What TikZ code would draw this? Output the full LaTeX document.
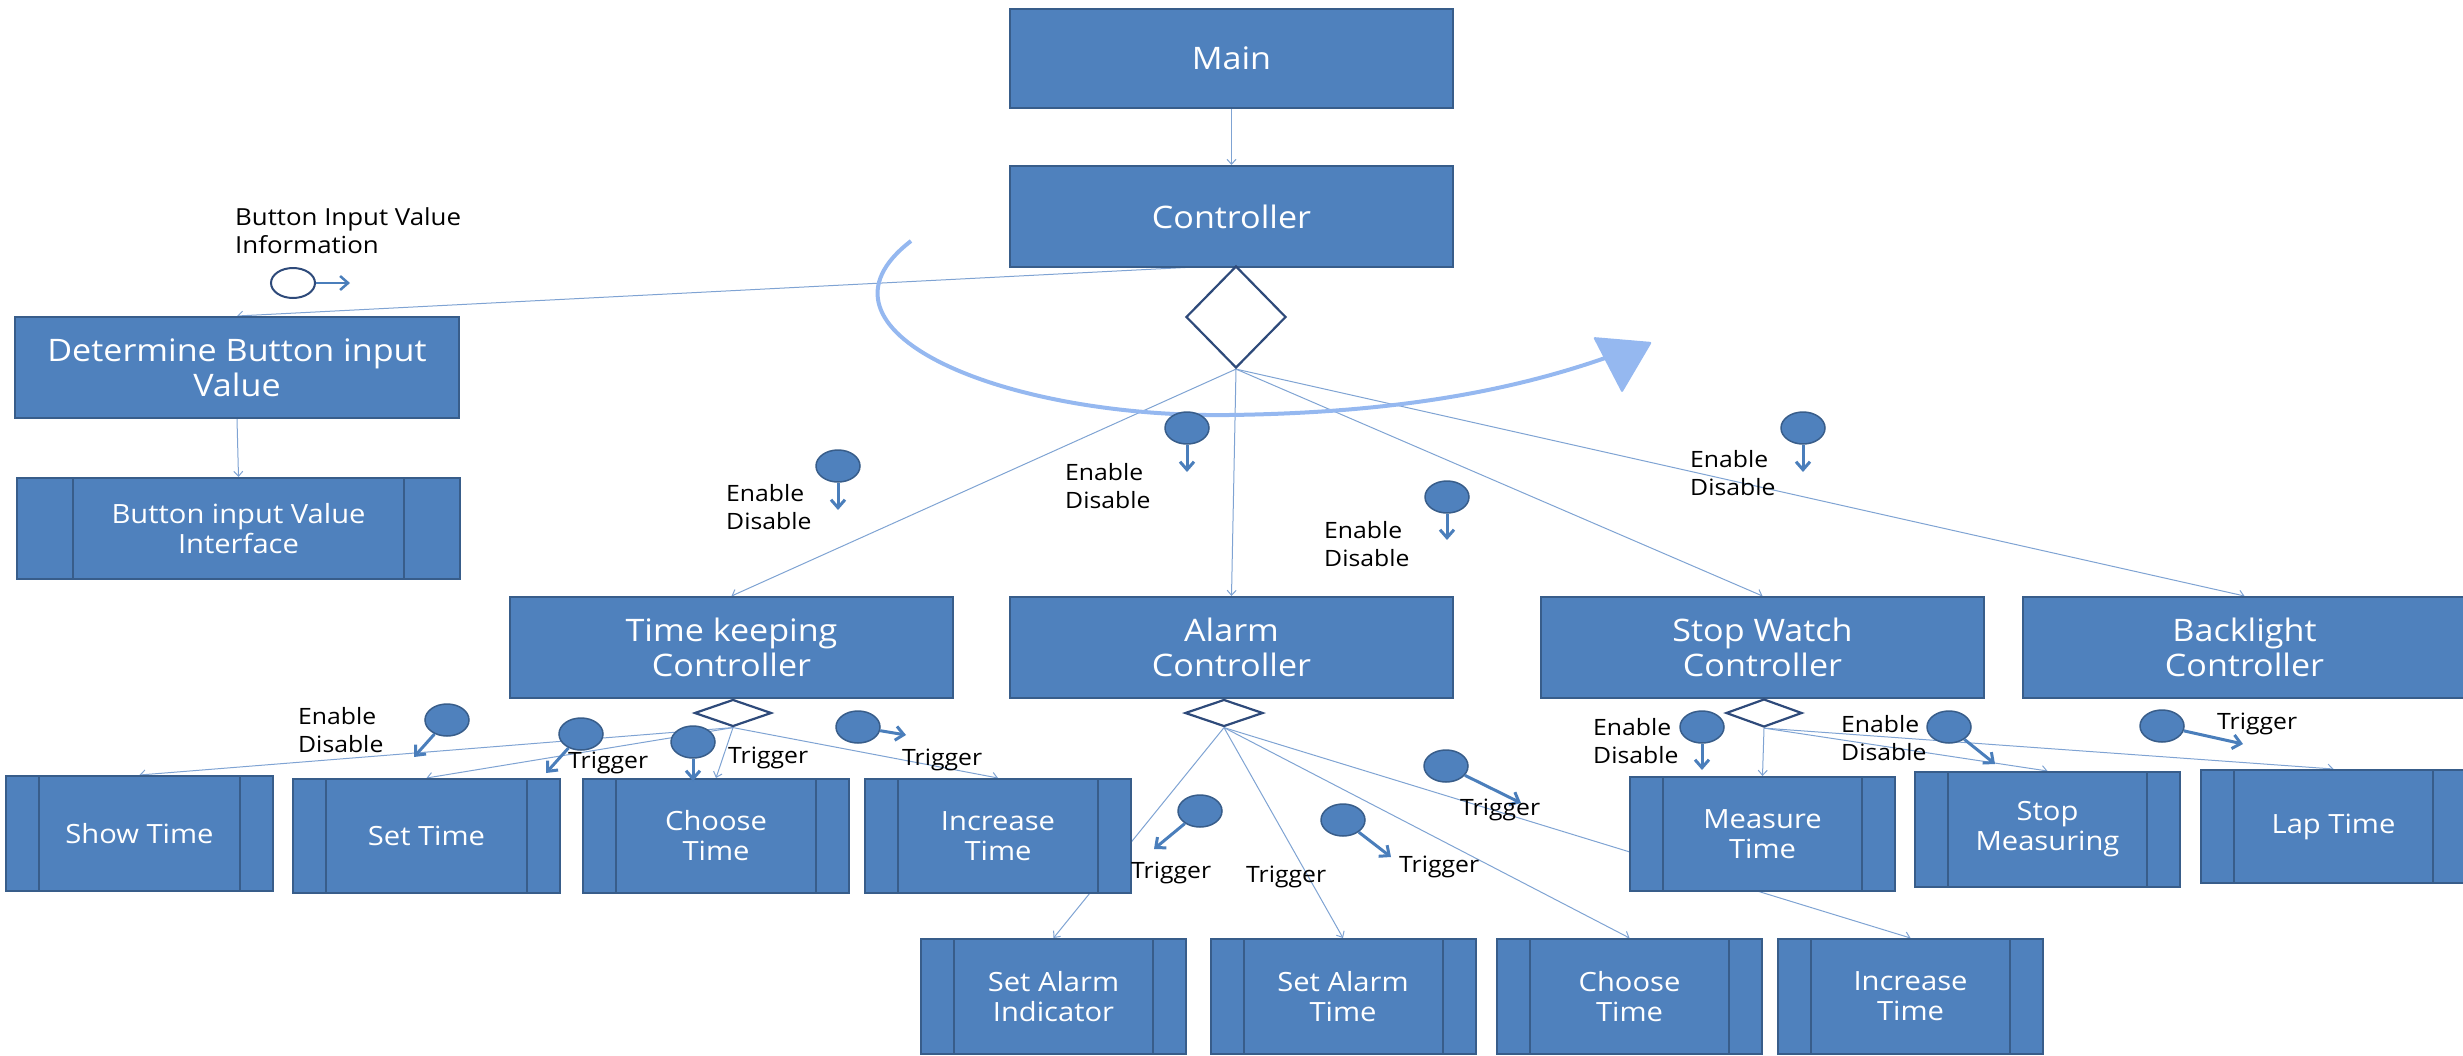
\documentclass[tikz,border=0pt]{standalone}
\usepackage{fontspec}
\setmainfont{Open Sans}[FakeStretch=1.1]
\usetikzlibrary{shapes.geometric,arrows.meta}
\definecolor{boxblue}{HTML}{4F81BD}
\definecolor{boxedge}{HTML}{385D8A}
\definecolor{conncol}{HTML}{7FA3D3}
\definecolor{sigblue}{HTML}{4A7EBB}
\definecolor{diaedge}{HTML}{2E4A7A}
\definecolor{curvecol}{HTML}{95B8F0}
\newcommand\myBig{\fontsize{31}{35}\selectfont}
\newcommand\mySmall{\fontsize{26.5}{30}\selectfont}
\newcommand\myLbl{\fontsize{22.5}{28}\selectfont}
\pgfdeclarelayer{bg}
\pgfsetlayers{bg,main}
\tikzset{
  bigbox/.style={rectangle, draw=boxedge, fill=boxblue, line width=2pt,
    minimum width=443pt, minimum height=101pt, inner sep=0pt,
    text=white, font=\myBig, align=center},
  procbox/.style={rectangle, draw=boxedge, fill=boxblue, line width=2pt,
    minimum width=265pt, minimum height=115pt, inner sep=0pt,
    text=white, font=\mySmall, align=center,
    path picture={\draw[boxedge, line width=2pt]
      ([xshift=#1]path picture bounding box.north west) -- ([xshift=#1]path picture bounding box.south west)
      ([xshift=-#1]path picture bounding box.north east) -- ([xshift=-#1]path picture bounding box.south east);}},
  procbox/.default=33pt,
  dia/.style={diamond, draw=diaedge, fill=white, line width=2.2pt, inner sep=0pt},
  marker/.style={ellipse, draw=boxedge, fill=boxblue, line width=1.5pt,
    minimum width=44pt, minimum height=32pt, inner sep=0pt},
  hollow/.style={ellipse, draw=diaedge, fill=white, line width=2pt,
    minimum width=44pt, minimum height=30pt, inner sep=0pt},
  sig/.style={draw=sigblue, line width=3pt, -{Straight Barb[length=8pt,width=14pt]}},
  conn/.style={draw=conncol, line width=1pt, -{Straight Barb[length=5pt,width=9pt]}},
  lbl/.style={font=\myLbl, align=left, anchor=west, inner sep=0pt, text=black},
}
\begin{document}
\begin{tikzpicture}[x=1pt,y=-1pt]
\useasboundingbox (0,0) rectangle (2463,1055);

% main boxes
\node[bigbox, minimum height=99pt] (main) at (1231.5,58.5) {Main};
\node[bigbox] (ctrl) at (1231.5,216.5) {Controller};
\node[dia, minimum width=100pt, minimum height=102pt] (bigd) at (1236,317) {};
\node[bigbox, minimum width=444pt] (det) at (237,367.5) {Determine Button input\\Value};
\node[procbox=56pt, minimum width=443pt, minimum height=101pt, font=\mySmall] (iface) at (238.5,528.5) {Button input Value\\Interface};

\node[bigbox] (tk) at (731.5,647.5) {Time keeping\\Controller};
\node[bigbox] (alarm) at (1231.5,647.5) {Alarm\\Controller};
\node[bigbox] (sw) at (1762.5,647.5) {Stop Watch\\Controller};
\node[bigbox] (bl) at (2244.5,647.5) {Backlight\\Controller};

\node[dia, minimum width=77pt, minimum height=27pt] (tkd) at (733,713) {};
\node[dia, minimum width=78pt, minimum height=27pt] (ald) at (1224,713) {};
\node[dia, minimum width=76pt, minimum height=28pt] (swd) at (1764,713) {};

% process boxes
\node[procbox, minimum width=267pt] (showt) at (139.5,833.5) {Show Time};
\node[procbox, minimum width=267pt, minimum height=114pt] (sett) at (426.5,836) {Set Time};
\node[procbox, minimum width=266pt, minimum height=114pt] (chooset) at (716,836) {Choose\\Time};
\node[procbox, minimum width=266pt, minimum height=114pt] (inct) at (998,836) {Increase\\Time};

\node[procbox] (setind) at (1053.5,996.5) {Set Alarm\\Indicator};
\node[procbox] (setalt) at (1343,996.5) {Set Alarm\\Time};
\node[procbox] (choosea) at (1629.5,996.5) {Choose\\Time};
\node[procbox] (inca) at (1910.5,996.5) {Increase\\Time};

\node[procbox, minimum height=114pt] (meas) at (1762.5,834) {Measure\\Time};
\node[procbox] (stopm) at (2047.5,829.5) {Stop\\Measuring};
\node[procbox, minimum height=113pt] (lap) at (2333.5,826.5) {Lap Time};

% connectors
\begin{pgfonlayer}{bg}
\draw[conn] (main.south) -- (ctrl.north);
\draw[conn] (bigd.north) -- (det.north);
\draw[conn] (det.south) -- (iface.north);
\draw[conn] (bigd.south) -- (tk.north);
\draw[conn] (bigd.south) -- (alarm.north);
\draw[conn] (bigd.south) -- (sw.north);
\draw[conn] (bigd.south) -- (bl.north);
\draw[conn] (tkd.south) -- (showt.north);
\draw[conn] (tkd.south) -- (sett.north);
\draw[conn] (tkd.south) -- (chooset.north);
\draw[conn] (tkd.south) -- (inct.north);
\draw[conn] (ald.south) -- (setind.north);
\draw[conn] (ald.south) -- (setalt.north);
\draw[conn] (ald.south) -- (choosea.north);
\draw[conn] (ald.south) -- (inca.north);
\draw[conn] (swd.south) -- (meas.north);
\draw[conn] (swd.south) -- (stopm.north);
\draw[conn] (swd.south) -- (lap.north);
\end{pgfonlayer}

% curved arrow
\draw[curvecol, line width=4pt] (911,241) .. controls (795,330) and (1000,418) .. (1229,415)
  .. controls (1380,413) and (1500,395) .. (1608,357);
\fill[curvecol, rounded corners=2pt] (1593,337) -- (1652,342) -- (1622,393) -- cycle;

% Button input value information
\node[lbl, font=\fontsize{23.5}{28}\selectfont] (bivtext) at (235,231) {Button Input Value\\Information};
\node[hollow] (bivc) at (293,283) {};
\coordinate (bivt) at (350,283);
\draw[sig, line width=2.5pt] (bivc) -- (bivt);

% Enable/Disable markers
\node[marker] (e1) at (838,466) {};
\coordinate (e1t) at (838,510);
\draw[sig] (e1) -- (e1t);
\node[lbl] (e1l) at (726,507) {Enable\\Disable};

\node[marker] (e2) at (1187,428) {};
\coordinate (e2t) at (1187,472);
\draw[sig] (e2) -- (e2t);
\node[lbl] (e2l) at (1065,486) {Enable\\Disable};

\node[marker] (e3) at (1447,497) {};
\coordinate (e3t) at (1447,540);
\draw[sig] (e3) -- (e3t);
\node[lbl] (e3l) at (1324,544) {Enable\\Disable};

\node[marker] (e4) at (1803,428) {};
\coordinate (e4t) at (1803,472);
\draw[sig] (e4) -- (e4t);
\node[lbl] (e4l) at (1690,473) {Enable\\Disable};

\node[marker] (e5) at (447,720) {};
\coordinate (e5t) at (414,757);
\draw[sig] (e5) -- (e5t);
\node[lbl] (e5l) at (298,730) {Enable\\Disable};

\node[marker] (e6) at (1702,727) {};
\coordinate (e6t) at (1702,770);
\draw[sig] (e6) -- (e6t);
\node[lbl] (e6l) at (1593,741) {Enable\\Disable};

\node[marker] (e7) at (1949,727) {};
\coordinate (e7t) at (1995,764);
\draw[sig] (e7) -- (e7t);
\node[lbl] (e7l) at (1841,738) {Enable\\Disable};

% Trigger markers
\node[marker] (t1) at (581,734) {};
\coordinate (t1t) at (546,773);
\draw[sig] (t1) -- (t1t);
\node[lbl] (t1l) at (568,763) {Trigger};

\node[marker] (t2) at (693,742) {};
\coordinate (t2t) at (693,781);
\draw[sig] (t2) -- (t2t);
\node[lbl] (t2l) at (728,758) {Trigger};

\node[marker] (t3) at (858,727) {};
\coordinate (t3t) at (906,735);
\draw[sig] (t3) -- (t3t);
\node[lbl] (t3l) at (902,760) {Trigger};

\node[marker] (t4) at (1200,811) {};
\coordinate (t4t) at (1154,849);
\draw[sig] (t4) -- (t4t);
\node[lbl] (t4l) at (1131,873) {Trigger};

\node[lbl] (t5l) at (1246,877) {Trigger};

\node[marker] (t6) at (1343,820) {};
\coordinate (t6t) at (1391,857);
\draw[sig] (t6) -- (t6t);
\node[lbl] (t6l) at (1399,867) {Trigger};

\node[marker] (t7) at (1446,766) {};
\coordinate (t7t) at (1521,803);
\draw[sig] (t7) -- (t7t);
\node[lbl] (t7l) at (1460,810) {Trigger};

\node[marker] (t8) at (2162,726) {};
\coordinate (t8t) at (2243,744);
\draw[sig] (t8) -- (t8t);
\node[lbl] (t8l) at (2217,724) {Trigger};
\end{tikzpicture}
\end{document}
